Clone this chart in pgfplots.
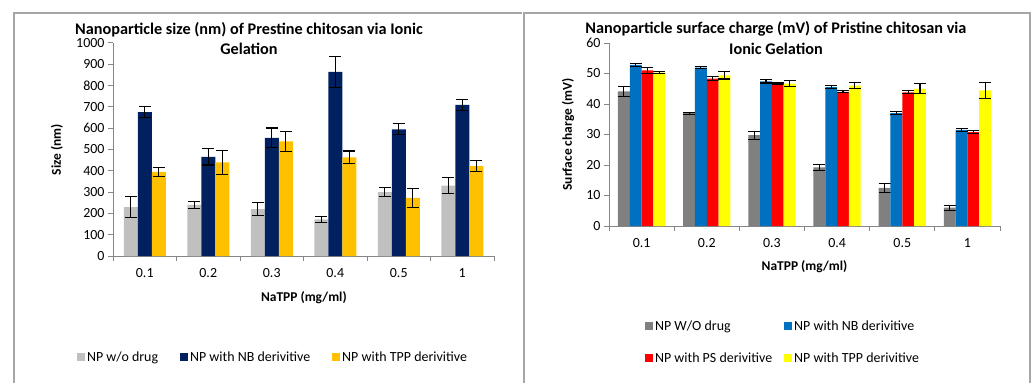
\documentclass[border=0pt]{standalone}
\usepackage{pgfplots}
\pgfplotsset{compat=1.18}
\usepackage{fontspec}
\setmainfont{Carlito}
\definecolor{lgrey}{HTML}{C0C0C0}
\definecolor{navy}{HTML}{002060}
\definecolor{gold}{HTML}{FFC000}
\definecolor{dgrey}{HTML}{808080}
\definecolor{eblue}{HTML}{0070C0}
\definecolor{ered}{HTML}{FF0000}
\definecolor{eyellow}{HTML}{FFFF00}
\definecolor{axgrey}{HTML}{868686}
\definecolor{framec}{HTML}{A6A6A6}
\pgfplotsset{
 common/.style={
  scale only axis, anchor=south west,
  axis x line*=bottom, axis y line*=left,
  axis line style={axgrey, line width=1bp},
  xmin=-0.5, xmax=5.5, ymin=0,
  xtick={-0.5,0.5,...,5.5}, xticklabels={},
  extra x ticks={0,1,2,3,4,5},
  extra x tick labels={0.1,0.2,0.3,0.4,0.5,1},
  extra x tick style={major tick length=0pt, xticklabel style={yshift=-9bp}},
  tick style={axgrey, line width=1bp}, major tick length=5bp,
  tick align=outside,
  tick label style={font=\fontsize{14}{16}\selectfont},
  /pgf/number format/assume math mode=true,
  /pgf/number format/1000 sep={},
  label style={font=\bfseries\fontsize{13.5}{16}\selectfont, anchor=center},
  title style={font=\bfseries\fontsize{16.3}{21}\selectfont, align=center, anchor=center},
  legend style={draw=none, fill=none, font=\fontsize{14}{16}\selectfont, anchor=center,
    inner xsep=0pt, inner ysep=0pt},
  legend cell align=left,
  ybar=0pt,
  every axis plot/.append style={draw=none,
   error bars/y dir=both, error bars/y explicit,
   error bars/error bar style={black, line width=1.1bp},
   error bars/error mark options={black, rotate=90, mark size=6bp, line width=1.1bp}},
  every axis plot post/.append style={
   legend image code/.code={\fill[####1,draw=none] (0bp,-4bp) rectangle (8bp,4bp);}},
 }
}
\begin{document}
\begin{tikzpicture}[x=1bp,y=1bp]
\useasboundingbox (0,0) rectangle (1033,383);
\draw[framec, line width=1.2bp] (14,0) -- (14,370) -- (522,370);
\draw[framec, line width=1.2bp] (524,0) -- (524,370) -- (1030,370) -- (1030,0);
\begin{axis}[common,
  at={(113bp,127bp)}, width=381bp, height=213bp,
  ymax=1000, ytick={0,100,...,1000},
  bar width=14bp,
  title={Nanoparticle size (nm) of Prestine chitosan via Ionic\\Gelation},
  title style={at={(0.357,0.993)}},
  xlabel={NaTPP (mg/ml)}, ylabel={Size (nm)},
  xlabel style={at={(axis description cs:0.501,-0.197)}},
  ylabel style={at={(axis description cs:-0.147,0.5)}},
  legend columns=3,
  legend style={at={(0.42,-0.474)}, /tikz/every even column/.append style={column sep=20bp}},
]
\addplot[fill=lgrey] coordinates {(0,230) +- (0,48) (1,240) +- (0,15) (2,220) +- (0,30) (3,172) +- (0,15) (4,300) +- (0,22) (5,330) +- (0,37)};
\addplot[fill=navy] coordinates {(0,675) +- (0,25) (1,465) +- (0,38) (2,555) +- (0,46) (3,865) +- (0,72) (4,595) +- (0,26) (5,710) +- (0,25)};
\addplot[fill=gold] coordinates {(0,395) +- (0,20) (1,440) +- (0,57) (2,538) +- (0,46) (3,463) +- (0,30) (4,273) +- (0,46) (5,422) +- (0,27)};
\legend{NP w/o drug, NP with NB derivitive, NP with TPP derivitive}
\end{axis}
\begin{axis}[common,
  at={(609bp,157bp)}, width=391bp, height=183bp,
  ymax=60, ytick={0,10,...,60},
  bar width=11.8bp,
  title={Nanoparticle surface charge (mV) of Pristine chitosan via\\Ionic Gelation},
  title style={at={(0.427,0.992)}},
  xlabel={NaTPP (mg/ml)}, ylabel={Surface charge (mV)},
  xlabel style={at={(axis description cs:0.5,-0.224)}},
  ylabel style={at={(axis description cs:-0.105,0.5)}},
  legend columns=2,
  legend style={at={(0.445,-0.634)}, row sep=17bp, /tikz/every even column/.append style={column sep=10bp}},
]
\addplot[fill=dgrey] coordinates {(0,44.1) +- (0,1.6) (1,37.0) +- (0,0.3) (2,29.8) +- (0,1.3) (3,19.2) +- (0,1.0) (4,12.5) +- (0,1.4) (5,6.0) +- (0,0.8)};
\addplot[fill=eblue] coordinates {(0,52.8) +- (0,0.6) (1,51.9) +- (0,0.4) (2,47.4) +- (0,0.5) (3,45.5) +- (0,0.5) (4,37.0) +- (0,0.4) (5,31.5) +- (0,0.5)};
\addplot[fill=ered] coordinates {(0,51.0) +- (0,0.9) (1,48.3) +- (0,0.7) (2,46.6) +- (0,0.3) (3,44.0) +- (0,0.3) (4,43.8) +- (0,0.5) (5,30.8) +- (0,0.6)};
\addplot[fill=eyellow] coordinates {(0,50.3) +- (0,0.3) (1,49.4) +- (0,1.2) (2,46.7) +- (0,1.0) (3,46.0) +- (0,1.0) (4,45.0) +- (0,1.7) (5,44.5) +- (0,2.6)};
\legend{NP W/O drug, NP with NB derivitive, NP with PS derivitive, NP with TPP derivitive}
\end{axis}
\end{tikzpicture}
\end{document}
